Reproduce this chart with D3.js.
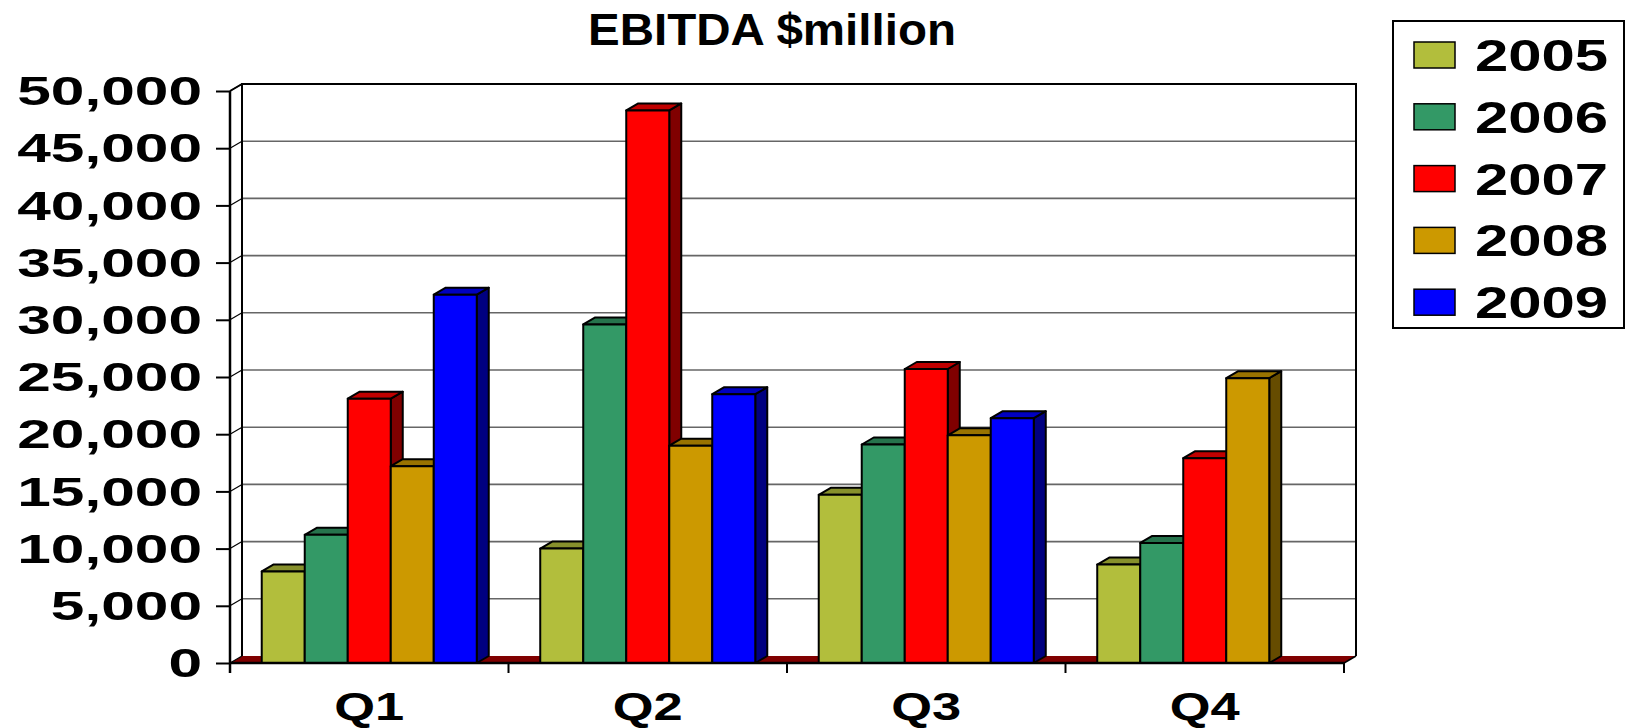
<!DOCTYPE html>
<html>
<head>
<meta charset="utf-8">
<script src="https://cdn.jsdelivr.net/npm/d3@7"></script>
<style>
  body { margin: 0; background: #fff; }
  text { font-family: "Liberation Sans", Arial, sans-serif; font-weight: bold; fill: #000; }
</style>
</head>
<body>
<svg id="chart" width="1629" height="728"></svg>
<script>
// data
const quarters = ["Q1", "Q2", "Q3", "Q4"]
const years = ["2005", "2006", "2007", "2008", "2009"]
const v2005 = [8000, 10000, 14700, 8600]
const v2006 = [11200, 29600, 19100, 10500]
const v2007 = [23100, 48300, 25700, 17900]
const v2008 = [17200, 19000, 19900, 24900]
const v2009 = [32200, 23500, 21400, 0]
const yTicks = [0, 5000, 10000, 15000, 20000, 25000, 30000, 35000, 40000, 45000, 50000]

const series = [v2005, v2006, v2007, v2008, v2009]
// front, top, side colours per year
const colors = {
    "2005": ["#b2be3c", "#87902c", "#5a6020"],
    "2006": ["#339966", "#26734c", "#1a4d33"],
    "2007": ["#ff0000", "#c00000", "#800000"],
    "2008": ["#cc9900", "#997300", "#664c00"],
    "2009": ["#0000ff", "#0000c0", "#000080"]
}

const svg = d3.select("#chart")
const dx = 12, dy = 7          // depth of the 3d box
const left = 230, right = 1344

const y = d3.scaleLinear().domain([0, 50000]).range([663, 91])
const x0 = d3.scaleBand().domain(quarters).range([left, right])
const x1 = d3.scaleBand().domain(years).range([0, x0.bandwidth()]).paddingOuter(0.738)

function stretch(sel, f){
    sel.each(function(){
        const w = this.getComputedTextLength()
        this.setAttribute("textLength", w * f)
        this.setAttribute("lengthAdjust", "spacingAndGlyphs")
    })
}

// walls + floor
svg.append("path")
    .attr("d", `M${left},${y(0)}L${left + dx},${y(0) - dy}L${right + dx},${y(0) - dy}L${right},${y(0)}Z`)
    .attr("fill", "#800000")
svg.append("path")
    .attr("d", `M${left},${y(50000)}L${left + dx},${y(50000) - dy}L${left + dx},${y(0) - dy}L${left},${y(0)}Z`)
    .attr("fill", "#fff")

const grid = svg.append("g")
grid.selectAll(".gl")
    .data(yTicks.filter(d => d > 0 && d < 50000))
    .enter().append("line")
    .attr("x1", left + dx).attr("x2", right + dx)
    .attr("y1", d => y(d) - dy).attr("y2", d => y(d) - dy)
    .attr("stroke", "#666").attr("stroke-width", 1.6)
grid.selectAll(".sl")
    .data(yTicks)
    .enter().append("line")
    .attr("x1", left).attr("x2", left + dx)
    .attr("y1", d => y(d)).attr("y2", d => y(d) - dy)
    .attr("stroke", "#000").attr("stroke-width", 1.2)

// wall outline
svg.append("path")
    .attr("d", `M${left + dx},${y(0) - dy}V${y(50000) - dy}H${right + dx}V${y(0) - dy}`)
    .attr("fill", "none").attr("stroke", "#000").attr("stroke-width", 2)
svg.append("line")
    .attr("x1", left).attr("y1", y(50000)).attr("x2", left + dx).attr("y2", y(50000) - dy)
    .attr("stroke", "#000").attr("stroke-width", 2)

// bars
const bars = []
quarters.forEach((q, i) => {
    years.forEach((yr, j) => {
        if (series[j][i] > 0) bars.push({q: q, year: yr, value: series[j][i]})
    })
})

const bar = svg.append("g").selectAll("g")
    .data(bars)
    .enter().append("g")
    .attr("stroke", "#000").attr("stroke-width", 2).attr("stroke-linejoin", "round")

bar.each(function(d){
    const g = d3.select(this)
    const xa = x0(d.q) + x1(d.year), xb = xa + x1.bandwidth()
    const yt = y(d.value), yb = y(0)
    const c = colors[d.year]
    g.append("path")
        .attr("d", `M${xb},${yb}L${xb + dx},${yb - dy}L${xb + dx},${yt - dy}L${xb},${yt}Z`)
        .attr("fill", c[2])
    g.append("path")
        .attr("d", `M${xa},${yt}L${xa + dx},${yt - dy}L${xb + dx},${yt - dy}L${xb},${yt}Z`)
        .attr("fill", c[1])
    g.append("rect")
        .attr("x", xa).attr("y", yt)
        .attr("width", xb - xa).attr("height", yb - yt)
        .attr("fill", c[0])
})

// front axis lines
svg.append("line")
    .attr("x1", left).attr("x2", left).attr("y1", y(50000)).attr("y2", y(0) + 10)
    .attr("stroke", "#000").attr("stroke-width", 2.5)
svg.append("line")
    .attr("x1", left).attr("x2", right).attr("y1", y(0)).attr("y2", y(0))
    .attr("stroke", "#000").attr("stroke-width", 2.5)
svg.append("path")
    .attr("d", `M${right},${y(0)}L${right + dx},${y(0) - dy}`)
    .attr("stroke", "#000").attr("stroke-width", 1.5)

// category boundary ticks
svg.append("g").selectAll("line")
    .data(quarters.map(q => x0(q)).concat([right]))
    .enter().append("line")
    .attr("x1", d => d).attr("x2", d => d)
    .attr("y1", y(0)).attr("y2", y(0) + 10)
    .attr("stroke", "#000").attr("stroke-width", 2)

// y axis
const yAxis = svg.append("g")
    .attr("transform", `translate(${left},0)`)
    .call(d3.axisLeft(y).tickValues(yTicks).tickFormat(d3.format(",")).tickSize(14).tickPadding(14))
yAxis.select(".domain").remove()
yAxis.selectAll("line").attr("stroke", "#000").attr("stroke-width", 2)
yAxis.selectAll("text")
    .style("font-size", "40px")
    .attr("dy", "0.34em")
    .call(stretch, 1.51)

// x axis labels
const xAxis = svg.append("g")
    .attr("transform", `translate(0,${y(0)})`)
    .call(d3.axisBottom(x0).tickSize(0))
xAxis.select(".domain").remove()
xAxis.selectAll("text")
    .style("font-size", "38px")
    .attr("y", 57).attr("dy", 0)
    .call(stretch, 1.38)

// title
svg.append("text")
    .attr("x", 772).attr("y", 45)
    .attr("text-anchor", "middle")
    .style("font-size", "44px")
    .text("EBITDA $million")
    .attr("textLength", 368)
    .attr("lengthAdjust", "spacingAndGlyphs")

// legend
const legend = svg.append("g")
legend.append("rect")
    .attr("x", 1393).attr("y", 21).attr("width", 231).attr("height", 307)
    .attr("fill", "#fff").attr("stroke", "#000").attr("stroke-width", 2)
const item = legend.selectAll(".item")
    .data(years)
    .enter().append("g")
    .attr("transform", (d, i) => `translate(0,${i * 61.8})`)
item.append("rect")
    .attr("x", 1414).attr("y", 42).attr("width", 41).attr("height", 26)
    .attr("fill", d => colors[d][0]).attr("stroke", "#000").attr("stroke-width", 1.5)
item.append("text")
    .attr("x", 1475).attr("y", 71)
    .style("font-size", "44px")
    .text(d => d)
    .call(stretch, 1.36)
</script>
</body>
</html>
